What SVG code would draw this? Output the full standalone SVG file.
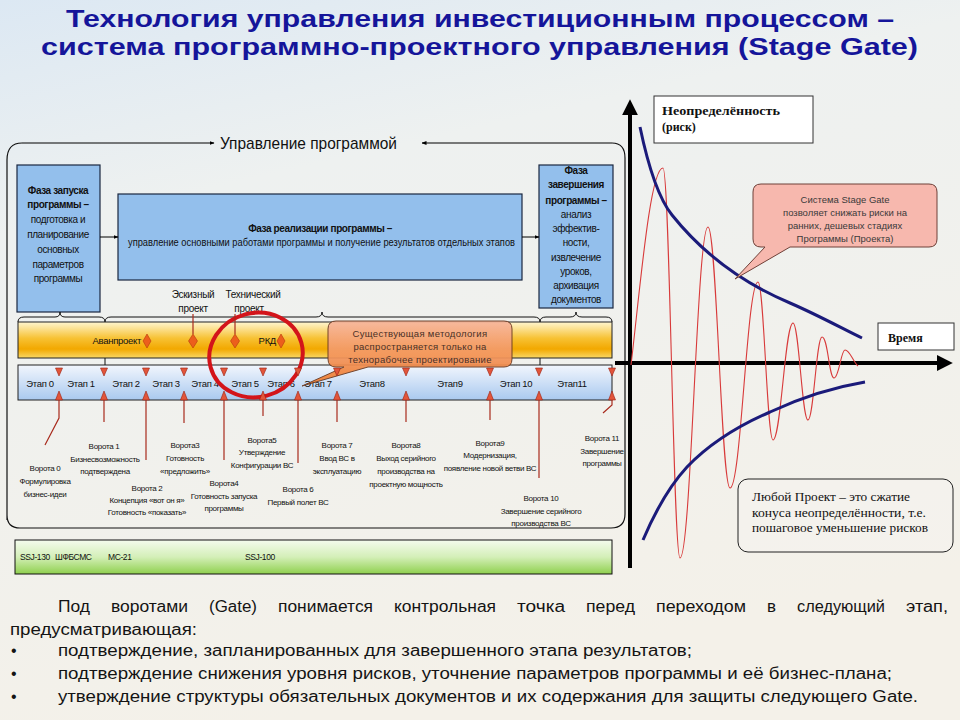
<svg xmlns="http://www.w3.org/2000/svg" width="960" height="720" viewBox="0 0 960 720">
<defs>
<linearGradient id="bg" x1="0" y1="0" x2="0.3" y2="1">
<stop offset="0" stop-color="#dce8f3"/>
<stop offset="0.3" stop-color="#eef1f0"/>
<stop offset="1" stop-color="#f4f1e9"/>
</linearGradient>
<linearGradient id="orange" x1="0" y1="0" x2="0" y2="1">
<stop offset="0" stop-color="#fff6d0"/>
<stop offset="0.45" stop-color="#f7c234"/>
<stop offset="0.75" stop-color="#f2a800"/>
<stop offset="1" stop-color="#f9d866"/>
</linearGradient>
<linearGradient id="stage" x1="0" y1="0" x2="0" y2="1">
<stop offset="0" stop-color="#f2f6fd"/>
<stop offset="1" stop-color="#a9c9ef"/>
</linearGradient>
<linearGradient id="green" x1="0" y1="0" x2="0" y2="1">
<stop offset="0" stop-color="#f4fbee"/>
<stop offset="0.5" stop-color="#d4efb8"/>
<stop offset="1" stop-color="#8fd04e"/>
</linearGradient>
<linearGradient id="callo" x1="0" y1="0" x2="0" y2="1">
<stop offset="0" stop-color="#f7b59a"/>
<stop offset="1" stop-color="#f07a2a"/>
</linearGradient>
<marker id="ah" viewBox="0 0 10 10" refX="9" refY="5" markerWidth="5" markerHeight="5" orient="auto">
<path d="M0,1 L10,5 L0,9 z" fill="#000"/>
</marker>
<marker id="axh" viewBox="0 0 10 10" refX="2" refY="5" markerWidth="4" markerHeight="4" orient="auto">
<path d="M0,0 L10,5 L0,10 z" fill="#000"/>
</marker>
<style>
.t{font-family:"Liberation Sans",Arial,sans-serif;fill:#111}
.box{fill:#93bfec;stroke:#1a2740;stroke-width:1.2}
.bl{font-size:10px;text-anchor:middle;letter-spacing:-0.4px}
.b{font-weight:bold}
.st{font-size:9.5px;text-anchor:middle;letter-spacing:-0.3px}
.g{font-size:8px;text-anchor:middle;letter-spacing:-0.3px}
.gl{stroke:#a82a1c;stroke-width:1.2;fill:none}
.tri{fill:#e2553a;stroke:#9a2010;stroke-width:0.6}
.dia{fill:#ec5f1c;stroke:#b53a0c;stroke-width:0.6}
.ser{font-family:"Liberation Serif","Times New Roman",serif;fill:#111}
.bt{font-family:"Liberation Sans",Arial,sans-serif;font-size:16px;fill:#141414}
</style>
</defs>
<rect width="960" height="720" fill="url(#bg)"/>

<g id="title" class="t" font-weight="bold" font-size="24" style="fill:#15159a">
<text x="66" y="27" textLength="828" lengthAdjust="spacingAndGlyphs">Технология управления инвестиционным процессом –</text>
<text x="41" y="55" textLength="877" lengthAdjust="spacingAndGlyphs">система программно-проектного управления (Stage Gate)</text>
</g>

<g id="frame">
<path d="M7,520 L7,160 Q7,143 22,143 M612,143 Q625,143 625,158 L625,514 Q625,528 611,528 L20,528 Q7,528 7,515" fill="none" stroke="#111" stroke-width="1.2"/>
<text class="t" x="220" y="149" font-size="17" textLength="177" lengthAdjust="spacingAndGlyphs">Управление программой</text>
</g>

<g id="phase-start">
<rect class="box" x="17" y="165" width="83" height="147"/>
<text class="t bl b" x="58" y="194">Фаза запуска</text>
<text class="t bl b" x="58" y="208">программы –</text>
<text class="t bl" x="58" y="223">подготовка и</text>
<text class="t bl" x="58" y="238">планирование</text>
<text class="t bl" x="58" y="253">основных</text>
<text class="t bl" x="58" y="268">параметров</text>
<text class="t bl" x="58" y="282">программы</text>
</g>

<g id="phase-impl">
<rect class="box" x="118" y="194" width="404" height="86"/>
<text class="t bl b" x="320" y="232">Фаза реализации программы –</text>
<text class="t" x="128" y="246" font-size="10" textLength="387" lengthAdjust="spacingAndGlyphs">управление основными работами программы и получение результатов отдельных этапов</text>
</g>

<g id="phase-end">
<rect class="box" x="539" y="165" width="74" height="143"/>
<text class="t bl b" x="576" y="174">Фаза</text>
<text class="t bl b" x="576" y="188">завершения</text>
<text class="t bl b" x="576" y="204">программы –</text>
<text class="t bl" x="576" y="218">анализ</text>
<text class="t bl" x="576" y="232">эффектив-</text>
<text class="t bl" x="576" y="246">ности,</text>
<text class="t bl" x="576" y="261">извлечение</text>
<text class="t bl" x="576" y="275">уроков,</text>
<text class="t bl" x="576" y="289">архивация</text>
<text class="t bl" x="576" y="303">документов</text>
</g>

<g id="braces" fill="none" stroke="#111" stroke-width="1">
<path d="M18,322 Q18,317 24,317 L55,317 Q60,317 60,312 Q60,317 65,317 L99,317 Q105,317 105,322"/>
<path d="M105,322 Q105,317 111,317 L316,317 Q322,317 322,312 Q322,317 328,317 L534,317 Q540,317 540,322"/>
<path d="M540,322 Q540,317 546,317 L570,317 Q576,317 576,312 Q576,317 582,317 L606,317 Q612,317 612,322"/>
</g>

<g id="design-labels">
<text class="t" x="193" y="298" font-size="10" text-anchor="middle" letter-spacing="-0.3">Эскизный</text>
<text class="t" x="193" y="312" font-size="10" text-anchor="middle" letter-spacing="-0.3">проект</text>
<text class="t" x="253" y="298" font-size="10" text-anchor="middle" letter-spacing="-0.3">Технический</text>
<text class="t" x="249" y="312" font-size="10" text-anchor="middle" letter-spacing="-0.3">проект</text>
</g>

<g id="project-bar">
<rect x="18" y="322" width="594" height="36" fill="url(#orange)" stroke="#222" stroke-width="1"/>
<text class="t" x="141" y="344" font-size="9.5" text-anchor="end" letter-spacing="-0.3">Аванпроект</text>
<text class="t" x="276" y="344" font-size="9.5" text-anchor="end" letter-spacing="-0.3">РКД</text>
<path class="dia" d="M147,334 L151,341 L147,348 L143,341 z"/>
<path class="dia" d="M193,334 L197.5,341 L193,348 L188.5,341 z"/>
<path class="dia" d="M235,334 L239.5,341 L235,348 L230.5,341 z"/>
<path class="dia" d="M281,334 L285,341 L281,348 L277,341 z"/>
</g>

<g id="stage-bar">
<rect x="18" y="365" width="594" height="35" fill="url(#stage)" stroke="#222" stroke-width="1"/>
<text class="t st" x="40" y="387">Этап 0</text>
<text class="t st" x="81" y="387">Этап 1</text>
<text class="t st" x="126" y="387">Этап 2</text>
<text class="t st" x="166" y="387">Этап 3</text>
<text class="t st" x="205" y="387">Этап 4</text>
<text class="t st" x="245" y="387">Этап 5</text>
<text class="t st" x="281" y="387">Этап 6</text>
<text class="t st" x="318" y="387">Этап 7</text>
<text class="t st" x="372" y="387">Этап8</text>
<text class="t st" x="450" y="387">Этап9</text>
<text class="t st" x="516" y="387">Этап 10</text>
<text class="t st" x="572" y="387">Этап11</text>
</g>

<g id="gate-labels" class="t">
<text class="g" x="45" y="471">Ворота 0</text>
<text class="g" x="45" y="484">Формулировка</text>
<text class="g" x="45" y="497">бизнес-идеи</text>
<text class="g" x="104" y="449">Ворота 1</text>
<text class="g" x="105" y="462">Бизнесвозможность</text>
<text class="g" x="105" y="474">подтверждена</text>
<text class="g" x="147" y="491">Ворота 2</text>
<text class="g" x="147" y="503">Концепция «вот он я»</text>
<text class="g" x="147" y="515">Готовность «показать»</text>
<text class="g" x="185" y="448">Ворота3</text>
<text class="g" x="185" y="461">Готовность</text>
<text class="g" x="185" y="474">«предложить»</text>
<text class="g" x="224" y="486">Ворота4</text>
<text class="g" x="224" y="499">Готовность запуска</text>
<text class="g" x="224" y="511">программы</text>
<text class="g" x="262" y="443">Ворота5</text>
<text class="g" x="262" y="455">Утверждение</text>
<text class="g" x="262" y="468">Конфигурации ВС</text>
<text class="g" x="298" y="492">Ворота 6</text>
<text class="g" x="298" y="505">Первый полет ВС</text>
<text class="g" x="337" y="448">Ворота 7</text>
<text class="g" x="337" y="461">Ввод ВС в</text>
<text class="g" x="337" y="474">эксплуатацию</text>
<text class="g" x="406" y="448">Ворота8</text>
<text class="g" x="406" y="461">Выход серийного</text>
<text class="g" x="406" y="474">производства на</text>
<text class="g" x="406" y="487">проектную мощность</text>
<text class="g" x="490" y="446">Ворота9</text>
<text class="g" x="490" y="458">Модернизация,</text>
<text class="g" x="490" y="471">появление новой ветви ВС</text>
<text class="g" x="541" y="501">Ворота 10</text>
<text class="g" x="541" y="514">Завершение серийного</text>
<text class="g" x="541" y="526">производства ВС</text>
<text class="g" x="602" y="441">Ворота 11</text>
<text class="g" x="602" y="454">Завершение</text>
<text class="g" x="602" y="466">программы</text>
</g>

<g id="methodology-callout">
<path d="M336,321 L504,321 Q512,321 512,329 L512,359 Q512,367 504,367 L368,367 L302,386 L344,367 L336,367 Q328,367 328,359 L328,329 Q328,321 336,321 z" fill="url(#callo)" stroke="#6a3a22" stroke-width="1" opacity="0.93"/>
<text class="t" x="420" y="337" font-size="9.5" text-anchor="middle" style="fill:#4a3026" letter-spacing="0.3">Существующая методология</text>
<text class="t" x="420" y="350" font-size="9.5" text-anchor="middle" style="fill:#4a3026" letter-spacing="0.3">распространяется только на</text>
<text class="t" x="420" y="363" font-size="9.5" text-anchor="middle" style="fill:#4a3026" letter-spacing="0.3">технорабочее проектирование</text>
</g>

<g id="highlight">
<ellipse cx="256" cy="355" rx="47" ry="42" transform="rotate(-15 256 355)" fill="none" stroke="#d3141a" stroke-width="4"/>
</g>

<g id="aircraft-bar">
<rect x="15" y="540" width="597" height="34" fill="url(#green)" stroke="#111" stroke-width="1"/>
<text class="t" x="20" y="560" font-size="8.5" letter-spacing="-0.4">SSJ-130</text>
<text class="t" x="55" y="560" font-size="8.5" letter-spacing="-0.4">ШФБСМС</text>
<text class="t" x="108" y="560" font-size="8.5" letter-spacing="-0.4">МС-21</text>
<text class="t" x="245" y="560" font-size="8.5" letter-spacing="-0.4">SSJ-100</text>
</g>

<g id="connectors">
<line x1="100" y1="237" x2="118" y2="237" stroke="#000" stroke-width="1" marker-end="url(#ah)"/>
<line x1="522" y1="237" x2="539" y2="237" stroke="#000" stroke-width="1" marker-end="url(#ah)"/>
<line x1="22" y1="143" x2="214" y2="143" stroke="#000" stroke-width="1" marker-end="url(#ah)"/>
<line x1="612" y1="143" x2="422" y2="143" stroke="#000" stroke-width="1" marker-end="url(#ah)"/>
<line x1="193" y1="314" x2="193" y2="334" class="gl"/>
<line x1="235" y1="314" x2="235" y2="334" class="gl"/>
<line x1="105" y1="358" x2="105" y2="365" stroke="#111" stroke-width="1"/>
<line x1="540" y1="358" x2="540" y2="365" stroke="#111" stroke-width="1"/>
<g id="gates-top">
<path class="tri" d="M55.5,368 L62.5,368 L59,376 z"/>
<path class="tri" d="M100.5,368 L107.5,368 L104,376 z"/>
<path class="tri" d="M142.5,368 L149.5,368 L146,376 z"/>
<path class="tri" d="M180.5,368 L187.5,368 L184,376 z"/>
<path class="tri" d="M220.5,368 L227.5,368 L224,376 z"/>
<path class="tri" d="M259.5,368 L266.5,368 L263,376 z"/>
<path class="tri" d="M294.5,368 L301.5,368 L298,376 z"/>
<path class="tri" d="M333.5,368 L340.5,368 L337,376 z"/>
<path class="tri" d="M402.5,368 L409.5,368 L406,376 z"/>
<path class="tri" d="M486.5,368 L493.5,368 L490,376 z"/>
<path class="tri" d="M535.5,368 L542.5,368 L539,376 z"/>
<path class="tri" d="M608.5,368 L615.5,368 L612,376 z"/>
</g>
<g id="gates-bottom">
<path class="tri" d="M55.5,400 L62.5,400 L59,391 z"/>
<path class="tri" d="M100.5,400 L107.5,400 L104,391 z"/>
<path class="tri" d="M142.5,400 L149.5,400 L146,391 z"/>
<path class="tri" d="M180.5,400 L187.5,400 L184,391 z"/>
<path class="tri" d="M220.5,400 L227.5,400 L224,391 z"/>
<path class="tri" d="M259.5,400 L266.5,400 L263,391 z"/>
<path class="tri" d="M294.5,400 L301.5,400 L298,391 z"/>
<path class="tri" d="M333.5,400 L340.5,400 L337,391 z"/>
<path class="tri" d="M402.5,400 L409.5,400 L406,391 z"/>
<path class="tri" d="M486.5,400 L493.5,400 L490,391 z"/>
<path class="tri" d="M535.5,400 L542.5,400 L539,391 z"/>
<path class="tri" d="M608.5,400 L615.5,400 L612,391 z"/>
<path class="gl" d="M59,400 L59,418 L45,445"/>
<path class="gl" d="M104,400 L104,422"/>
<path class="gl" d="M146,400 L146,460"/>
<path class="gl" d="M184,400 L184,423"/>
<path class="gl" d="M224,400 L224,460"/>
<path class="gl" d="M263,400 L263,416"/>
<path class="gl" d="M298,400 L298,463"/>
<path class="gl" d="M337,400 L337,422"/>
<path class="gl" d="M406,400 L406,422"/>
<path class="gl" d="M490,400 L490,420"/>
<path class="gl" d="M539,400 L539,478"/>
<path class="gl" d="M612,400 L612,405 L603,413"/>
</g>
</g>

<g id="risk-chart">
<line x1="630" y1="568" x2="630" y2="112" stroke="#000" stroke-width="4" marker-end="url(#axh)"/>
<line x1="615" y1="363" x2="940" y2="363" stroke="#000" stroke-width="4" marker-end="url(#axh)"/>
<path d="M631,365 C640,290 650,168 663,168 C669.8,168 673.2,558 680,558 C691.2,558 696.8,227 708,227 C716.8,227 721.2,488 730,488 C741.2,488 746.8,282 758,282 C764,282 767,440 773,440 C781,440 785,323 793,323 C799,323 802,420 808,420 C813.6,420 816.4,337 822,337 C828,337 829,378 834,378 C839,378 841,350 845,350 C850,350 853,362 858,366" fill="none" stroke="#d83a3a" stroke-width="1.1"/>
<path d="M640,127 C650,175 660,200 672,215 C700,250 740,282 790,303 C820,316 845,330 862,338" fill="none" stroke="#1b1b7a" stroke-width="3"/>
<path d="M643,540 C660,500 675,480 687,467 C710,443 740,425 770,412 C800,398 835,387 865,382" fill="none" stroke="#1b1b7a" stroke-width="3"/>
</g>

<g id="label-uncertainty">
<rect x="654" y="96" width="159" height="47" fill="#fff" stroke="#333" stroke-width="1"/>
<text class="ser" x="662" y="115" font-size="12" font-weight="bold" textLength="118" lengthAdjust="spacingAndGlyphs">Неопределённость</text>
<text class="ser" x="662" y="131" font-size="12" font-weight="bold">(риск)</text>
</g>

<g id="label-time">
<rect x="878" y="323" width="76" height="27" fill="#fff" stroke="#333" stroke-width="1"/>
<text class="ser" x="888" y="342" font-size="12" font-weight="bold">Время</text>
</g>

<g id="stagegate-callout">
<path d="M763,184 L929,184 Q937,184 937,192 L937,239 Q937,247 929,247 L790,247 L735,279 L765,247 L761,247 Q753,247 753,239 L753,192 Q753,184 761,184 z" fill="#f7b8ae" stroke="#6e4038" stroke-width="1"/>
<text class="t" x="845" y="203" font-size="9.5" text-anchor="middle" style="fill:#3a3a3a">Система  Stage Gate</text>
<text class="t" x="845" y="216" font-size="9.5" text-anchor="middle" style="fill:#3a3a3a">позволяет снижать риски на</text>
<text class="t" x="845" y="229" font-size="9.5" text-anchor="middle" style="fill:#3a3a3a">ранних, дешевых стадиях</text>
<text class="t" x="845" y="242" font-size="9.5" text-anchor="middle" style="fill:#3a3a3a">Программы (Проекта)</text>
</g>

<g id="cone-note">
<rect x="738" y="479" width="215" height="73" rx="10" fill="#f5f3ee" fill-opacity="0.6" stroke="#222" stroke-width="1"/>
<text class="ser" x="752" y="501" font-size="11.5" textLength="158" lengthAdjust="spacingAndGlyphs">Любой Проект  – это сжатие</text>
<text class="ser" x="752" y="517" font-size="11.5" textLength="174" lengthAdjust="spacingAndGlyphs">конуса неопределённости, т.е.</text>
<text class="ser" x="752" y="532" font-size="11.5" textLength="176" lengthAdjust="spacingAndGlyphs">пошаговое уменьшение рисков</text>
</g>

<g id="gate-definition">
<text class="bt" x="58" y="612" textLength="32" lengthAdjust="spacingAndGlyphs">Под</text>
<text class="bt" x="111" y="612" textLength="77" lengthAdjust="spacingAndGlyphs">воротами</text>
<text class="bt" x="209" y="612" textLength="48" lengthAdjust="spacingAndGlyphs">(Gate)</text>
<text class="bt" x="278" y="612" textLength="95" lengthAdjust="spacingAndGlyphs">понимается</text>
<text class="bt" x="394" y="612" textLength="102" lengthAdjust="spacingAndGlyphs">контрольная</text>
<text class="bt" x="517" y="612" textLength="48" lengthAdjust="spacingAndGlyphs">точка</text>
<text class="bt" x="586" y="612" textLength="49" lengthAdjust="spacingAndGlyphs">перед</text>
<text class="bt" x="656" y="612" textLength="90" lengthAdjust="spacingAndGlyphs">переходом</text>
<text class="bt" x="767" y="612" textLength="9" lengthAdjust="spacingAndGlyphs">в</text>
<text class="bt" x="797" y="612" textLength="88" lengthAdjust="spacingAndGlyphs">следующий</text>
<text class="bt" x="906" y="612" textLength="42" lengthAdjust="spacingAndGlyphs">этап,</text>
<text class="bt" x="10" y="635" textLength="187" lengthAdjust="spacingAndGlyphs">предусматривающая:</text>
<text class="bt" x="11" y="656">•</text>
<text class="bt" x="58" y="656" textLength="634" lengthAdjust="spacingAndGlyphs">подтверждение, запланированных для завершенного этапа результатов;</text>
<text class="bt" x="11" y="679">•</text>
<text class="bt" x="58" y="679" textLength="834" lengthAdjust="spacingAndGlyphs">подтверждение снижения уровня рисков, уточнение параметров программы и её бизнес-плана;</text>
<text class="bt" x="11" y="702">•</text>
<text class="bt" x="58" y="702" textLength="860" lengthAdjust="spacingAndGlyphs">утверждение структуры обязательных документов и их содержания для защиты следующего Gate.</text>
</g>
</svg>
